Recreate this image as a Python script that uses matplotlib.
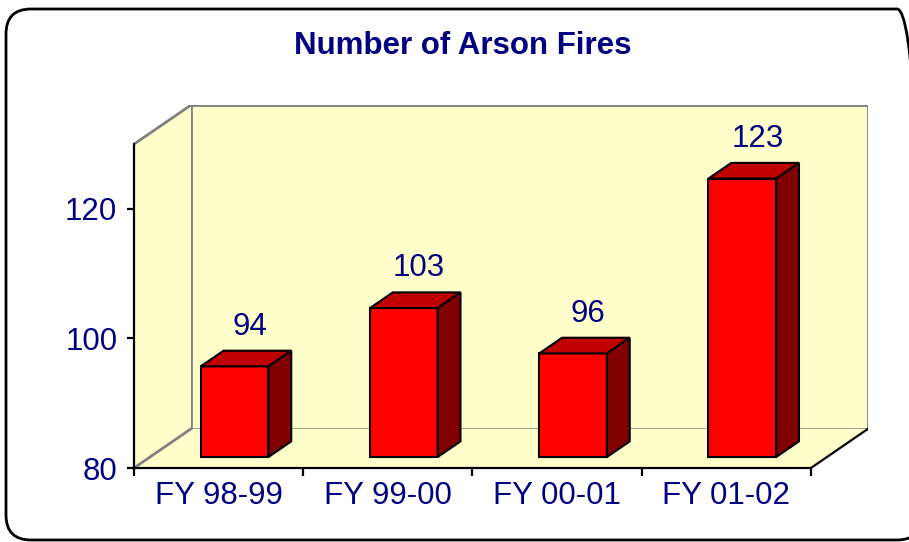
import matplotlib
matplotlib.use("Agg")
import matplotlib.pyplot as plt
from matplotlib.patches import Polygon, FancyBboxPatch
from matplotlib.transforms import IdentityTransform

# data
years = ["FY 98-99", "FY 99-00", "FY 00-01", "FY 01-02"]
fires = [94, 103, 96, 123]
y_ticks = [80, 100, 120]

plt.rcParams["font.family"] = ["Liberation Sans", "DejaVu Sans"]
navy = "#000080"
wall = "#FFFFCC"
grey = "#808080"

y0, y1 = 80, 130
DX, DY = 0.337, 6.05          # depth of the 3d box, in data units
f0, f1 = 0.28, 0.68           # bar front / back as fraction of depth
bw = 0.4

fig = plt.figure(figsize=(9.09, 5.42), dpi=100)
ax = fig.add_axes([134 / 909, 74 / 542, (868 - 134) / 909, (468 - 105) / 542])
ax.set_xlim(0, len(years) + DX)
ax.set_ylim(y0, y1 + DY)
ax.patch.set_visible(False)

# walls and floor
ax.add_patch(Polygon([(DX, y0 + DY), (len(years) + DX, y0 + DY), (len(years) + DX, y1 + DY), (DX, y1 + DY)],
                     closed=True, facecolor=wall, edgecolor=grey, lw=2, zorder=0.5))
ax.add_patch(Polygon([(0, y0), (DX, y0 + DY), (DX, y1 + DY), (0, y1)],
                     closed=True, facecolor=wall, edgecolor="none", zorder=0.5))
ax.plot([0, DX], [y1, y1 + DY], color=grey, lw=2, zorder=0.6)
ax.add_patch(Polygon([(0, y0), (len(years), y0), (len(years) + DX, y0 + DY), (DX, y0 + DY)],
                     closed=True, facecolor=wall, edgecolor="none", zorder=0.5))
ax.plot([0, DX], [y0, y0 + DY], color=grey, lw=2, zorder=0.6)
ax.plot([len(years), len(years) + DX], [y0, y0 + DY], color="black", lw=1.6, zorder=0.6)

# bars
for i, v in enumerate(fires):
    xl = i + 0.5 - bw / 2 + f0 * DX
    xr = xl + bw
    yb = y0 + f0 * DY
    yt = v + f0 * DY
    ddx = (f1 - f0) * DX
    ddy = (f1 - f0) * DY
    ax.add_patch(Polygon([(xl, yb), (xr, yb), (xr, yt), (xl, yt)], closed=True,
                         facecolor="#FF0000", edgecolor="black", lw=1.5, zorder=2))
    ax.add_patch(Polygon([(xl, yt), (xr, yt), (xr + ddx, yt + ddy), (xl + ddx, yt + ddy)], closed=True,
                         facecolor="#C00000", edgecolor="black", lw=1.5, zorder=2))
    ax.add_patch(Polygon([(xr, yb), (xr + ddx, yb + ddy), (xr + ddx, yt + ddy), (xr, yt)], closed=True,
                         facecolor="#800000", edgecolor="black", lw=1.5, zorder=2))
    ax.text((xl + xr) / 2 + 0.09, yt + ddy + 1.4, str(v), ha="center", va="bottom",
            fontsize=22.5, color=navy, zorder=3)

for s in ["top", "right"]:
    ax.spines[s].set_visible(False)
ax.spines["left"].set_bounds(y0, y1)
ax.spines["bottom"].set_bounds(0, len(years))
ax.spines["left"].set_linewidth(1.6)
ax.spines["bottom"].set_linewidth(1.6)

ax.set_yticks(y_ticks)
ax.tick_params(axis="y", direction="out", length=5, width=1.6, pad=7, labelsize=22.5, labelcolor=navy)
ax.set_xticks(range(len(years) + 1))
ax.set_xticklabels([])
ax.set_xticks([i + 0.5 for i in range(len(years))], minor=True)
ax.set_xticklabels(years, minor=True)
ax.tick_params(axis="x", which="major", direction="out", length=6, width=1.6)
ax.tick_params(axis="x", which="minor", length=0, pad=9, labelsize=22.5, labelcolor=navy)

fig.text(463 / 909, 1 - 46 / 542, "Number of Arson Fires", ha="center", va="center",
         fontsize=22.5, fontweight="bold", color=navy)

frame = FancyBboxPatch((6, 2), 916, 531, boxstyle="round,pad=0,rounding_size=25",
                       transform=IdentityTransform(), facecolor="none", edgecolor="black", lw=2)
fig.add_artist(frame)

fig.savefig("out.png", dpi=100)
